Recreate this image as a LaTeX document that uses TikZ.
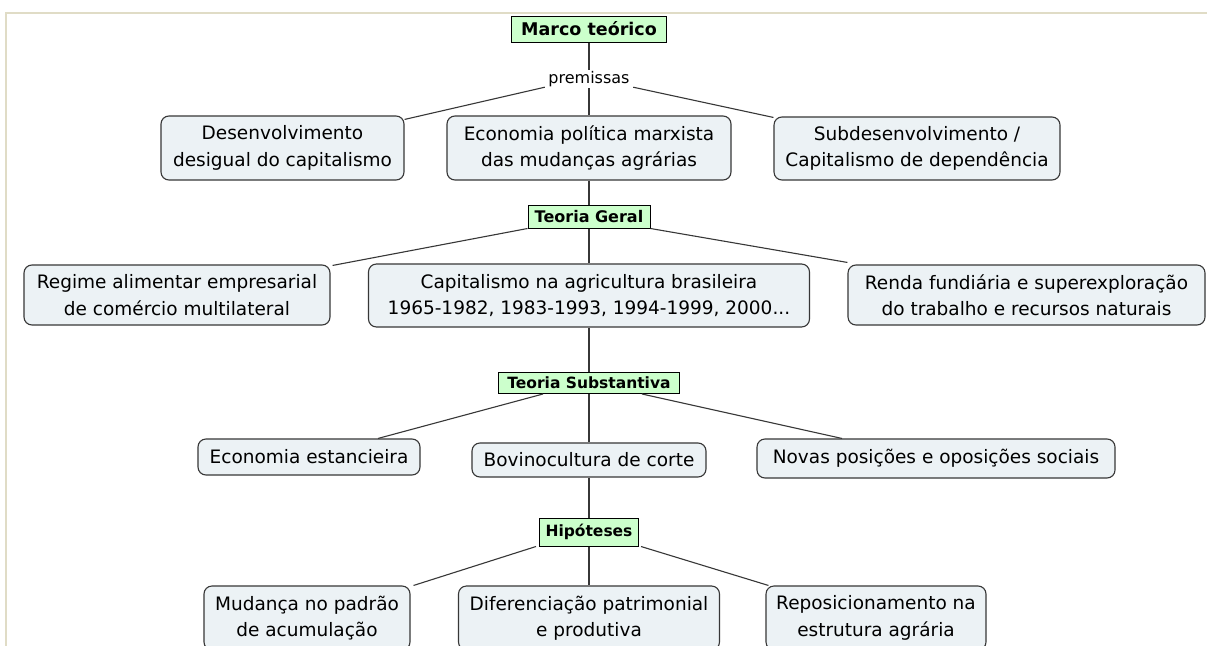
\documentclass[tikz,border=0pt]{standalone}
\usepackage{fontspec}
\setmainfont{DejaVu Sans}
\usetikzlibrary{calc}
\definecolor{boxfill}{RGB}{236,242,245}
\definecolor{boxline}{RGB}{55,55,55}
\definecolor{greenfill}{RGB}{204,255,204}
\definecolor{framecol}{RGB}{224,220,198}
\tikzset{
  concept/.style={draw=boxline, line width=1.1pt, fill=boxfill, rounded corners=8pt,
    inner sep=0pt, align=center, font=\fontsize{18.5}{26.5}\selectfont},
  level/.style={draw=black, line width=1pt, fill=greenfill, inner sep=0pt,
    font=\fontsize{15.5}{18}\selectfont\bfseries},
  linklabel/.style={fill=white, inner sep=0pt, minimum width=88pt, minimum height=18pt,
    font=\fontsize{16}{18}\selectfont},
  conn/.style={draw=boxline, line width=1.1pt},
  framestyle/.style={draw=framecol, line width=2pt}
}
\begin{document}
\begin{tikzpicture}[x=1pt,y=-1pt]
\clip (0,0) rectangle (1207,645);
\fill[white] (0,0) rectangle (1207,645);
\draw[framestyle] (6,650) -- (6,12.5) -- (1210,12.5);

% level labels
\node[level, minimum width=155pt, minimum height=26pt, font=\fontsize{17.5}{20}\selectfont\bfseries] (marco) at (589,29) {Marco teórico};
\node[linklabel] (prem) at (589,79) {premissas};
\node[level, minimum width=122pt, minimum height=23pt, font=\fontsize{16}{18}\selectfont\bfseries] (tgeral) at (589,216.5) {Teoria Geral};
\node[level, minimum width=181pt, minimum height=21pt] (tsubst) at (589,383) {Teoria Substantiva};
\node[level, minimum width=99pt, minimum height=28pt] (hipot) at (589,532) {Hipóteses};

% concepts
\node[concept, minimum width=243pt, minimum height=64pt] (desenv) at (282.5,148) {Desenvolvimento\\desigual do capitalismo};
\node[concept, minimum width=284pt, minimum height=64pt] (econ) at (589,148) {Economia política marxista\\das mudanças agrárias};
\node[concept, minimum width=286pt, minimum height=63pt] (subdes) at (917,148.5) {Subdesenvolvimento /\\Capitalismo de dependência};

\node[concept, minimum width=306pt, minimum height=60pt] (regime) at (177,295) {Regime alimentar empresarial\\de comércio multilateral};
\node[concept, minimum width=441pt, minimum height=63pt] (capit) at (589,295.5) {Capitalismo na agricultura brasileira\\1965-1982, 1983-1993, 1994-1999, 2000...};
\node[concept, minimum width=357pt, minimum height=60pt] (renda) at (1026.5,295) {Renda fundiária e superexploração\\do trabalho e recursos naturais};

\node[concept, minimum width=222pt, minimum height=36pt] (estanc) at (309,457) {Economia estancieira};
\node[concept, minimum width=234pt, minimum height=34pt] (bovino) at (589,460) {Bovinocultura de corte};
\node[concept, minimum width=358pt, minimum height=39pt] (novas) at (936,458.5) {Novas posições e oposições sociais};

\node[concept, minimum width=206pt, minimum height=64pt] (mudanca) at (307,618) {Mudança no padrão\\de acumulação};
\node[concept, minimum width=261pt, minimum height=64pt] (difer) at (589,618) {Diferenciação patrimonial\\e produtiva};
\node[concept, minimum width=220pt, minimum height=64pt] (repos) at (876,618) {Reposicionamento na\\estrutura agrária};

% connectors
\draw[conn] (marco.south) -- (prem.north);
\draw[conn] (prem.south) -- (econ.north);
\draw[conn] ($(prem.south west)+(0,-1)$) -- ($(desenv.north east)+(0,4)$);
\draw[conn] ($(prem.south east)+(0,-1)$) -- ($(subdes.north west)+(0,1)$);

\draw[conn] (econ.south) -- (tgeral.north);
\draw[conn] (tgeral.south) -- (capit.north);
\draw[conn] (tgeral.south west) -- ($(regime.north east)+(2,1)$);
\draw[conn] (tgeral.south east) -- ($(renda.north west)+(0,-2)$);

\draw[conn] (capit.south) -- (tsubst.north);
\draw[conn] (tsubst.south) -- (bovino.north);
\draw[conn] ($(tsubst.south)+(-46,0)$) -- ($(estanc.north)+(69,0)$);
\draw[conn] ($(tsubst.south)+(53,0)$) -- ($(novas.north)+(-94,0)$);

\draw[conn] (bovino.south) -- (hipot.north);
\draw[conn] (hipot.south) -- (difer.north);
\draw[conn] ($(hipot.south west)+(-3,0)$) -- ($(mudanca.north east)+(3,0)$);
\draw[conn] ($(hipot.south east)+(2,0)$) -- ($(repos.north west)+(3,0)$);
\end{tikzpicture}
\end{document}
